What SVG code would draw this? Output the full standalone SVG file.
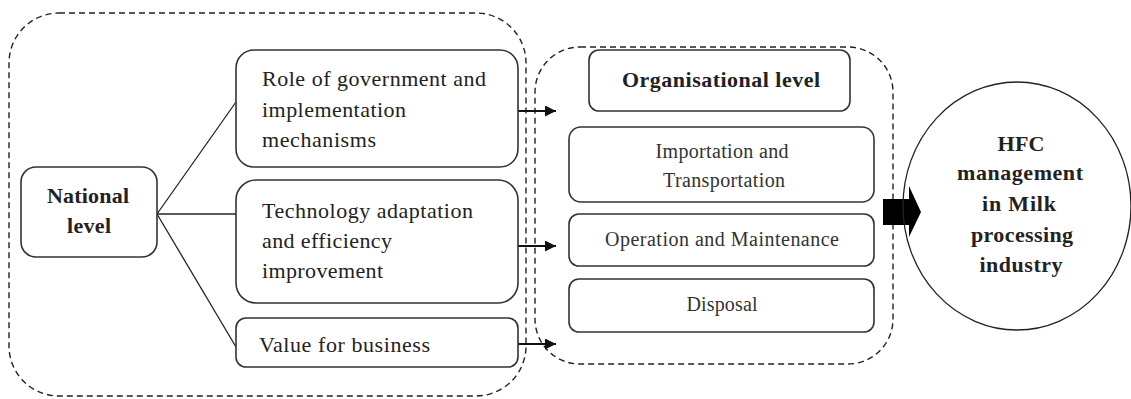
<svg xmlns="http://www.w3.org/2000/svg" width="1131" height="399" viewBox="0 0 1131 399">
  <defs>
    <style>
      .frame { fill: none; stroke: #222; stroke-width: 1.4; stroke-dasharray: 6 4; }
      .box { fill: #fff; stroke: #333; stroke-width: 1.6; }
      .link { fill: none; stroke: #222; stroke-width: 1.3; }
      .arrow { fill: none; stroke: #111; stroke-width: 1.8; marker-end: url(#head); }
      .t { font-family: "Liberation Serif", "Times New Roman", serif; fill: #222; }
      .reg { font-size: 22px; }
      .sm { font-size: 20px; fill: #333; }
      .bold { font-size: 22px; font-weight: bold; }
      .mid { text-anchor: middle; }
    </style>
    <marker id="head" viewBox="0 0 10 10" refX="10" refY="5" markerWidth="11" markerHeight="11" markerUnits="userSpaceOnUse" orient="auto">
      <path d="M0,0 L10,5 L0,10 z" fill="#111"/>
    </marker>
  </defs>

  <!-- dashed grouping frames -->
  <g id="frames">
    <rect class="frame" x="9" y="13" width="517" height="383" rx="50" ry="50"/>
    <rect class="frame" x="535" y="47" width="358" height="317" rx="45" ry="45"/>
  </g>

  <!-- connectors -->
  <g id="connectors">
    <line class="link" x1="157" y1="214" x2="236" y2="102"/>
    <line class="link" x1="157" y1="214" x2="236" y2="214"/>
    <line class="link" x1="157" y1="214" x2="236" y2="347"/>
    <line class="arrow" x1="518" y1="111" x2="556" y2="111"/>
    <line class="arrow" x1="518" y1="246" x2="556" y2="246"/>
    <line class="arrow" x1="518" y1="344" x2="556" y2="344"/>
    <path id="block-arrow" d="M883,199 L909,199 L909,186 L921,212 L909,237 L909,225 L883,225 z" fill="#000"/>
  </g>

  <g id="national">
    <rect class="box" x="21" y="167" width="136" height="90" rx="15"/>
    <text class="t bold mid" x="88" y="203" textLength="82" lengthAdjust="spacing">National</text>
    <text class="t bold mid" x="89" y="233" textLength="44" lengthAdjust="spacing">level</text>
  </g>

  <g id="government">
    <rect class="box" x="236" y="50" width="282" height="117" rx="18"/>
    <text class="t reg" x="262" y="86" textLength="224" lengthAdjust="spacing">Role of government and</text>
    <text class="t reg" x="262" y="117" textLength="144" lengthAdjust="spacing">implementation</text>
    <text class="t reg" x="262" y="147" textLength="114" lengthAdjust="spacing">mechanisms</text>
  </g>

  <g id="technology">
    <rect class="box" x="236" y="180" width="282" height="123" rx="20"/>
    <text class="t reg" x="262" y="218" textLength="211" lengthAdjust="spacing">Technology adaptation</text>
    <text class="t reg" x="262" y="248" textLength="130" lengthAdjust="spacing">and efficiency</text>
    <text class="t reg" x="262" y="278" textLength="121" lengthAdjust="spacing">improvement</text>
  </g>

  <g id="value">
    <rect class="box" x="236" y="318" width="282" height="49" rx="10"/>
    <text class="t reg" x="259" y="352" textLength="171" lengthAdjust="spacing">Value for business</text>
  </g>

  <g id="organisational">
    <rect class="box" x="589" y="50" width="261" height="61" rx="10"/>
    <text class="t bold mid" x="721" y="87" textLength="198" lengthAdjust="spacing">Organisational level</text>
  </g>

  <g id="importation">
    <rect class="box" x="569" y="127" width="305" height="75" rx="12"/>
    <text class="t sm mid" x="722" y="158" textLength="133" lengthAdjust="spacing">Importation and</text>
    <text class="t sm mid" x="724" y="187" textLength="122" lengthAdjust="spacing">Transportation</text>
  </g>

  <g id="operation">
    <rect class="box" x="569" y="214" width="305" height="52" rx="10"/>
    <text class="t sm mid" x="722" y="246" textLength="234" lengthAdjust="spacing">Operation and  Maintenance</text>
  </g>

  <g id="disposal">
    <rect class="box" x="569" y="279" width="305" height="53" rx="10"/>
    <text class="t sm mid" x="722" y="311" textLength="71" lengthAdjust="spacing">Disposal</text>
  </g>

  <g id="hfc">
    <ellipse cx="1017" cy="206" rx="114" ry="124" fill="none" stroke="#222" stroke-width="1.3"/>
    <text class="t bold mid" x="1021" y="151" textLength="47" lengthAdjust="spacing">HFC</text>
    <text class="t bold mid" x="1020" y="180" textLength="126" lengthAdjust="spacing">management</text>
    <text class="t bold mid" x="1019" y="211" textLength="74" lengthAdjust="spacing">in Milk</text>
    <text class="t bold mid" x="1022" y="242" textLength="102" lengthAdjust="spacing">processing</text>
    <text class="t bold mid" x="1021" y="272" textLength="83" lengthAdjust="spacing">industry</text>
  </g>
</svg>
